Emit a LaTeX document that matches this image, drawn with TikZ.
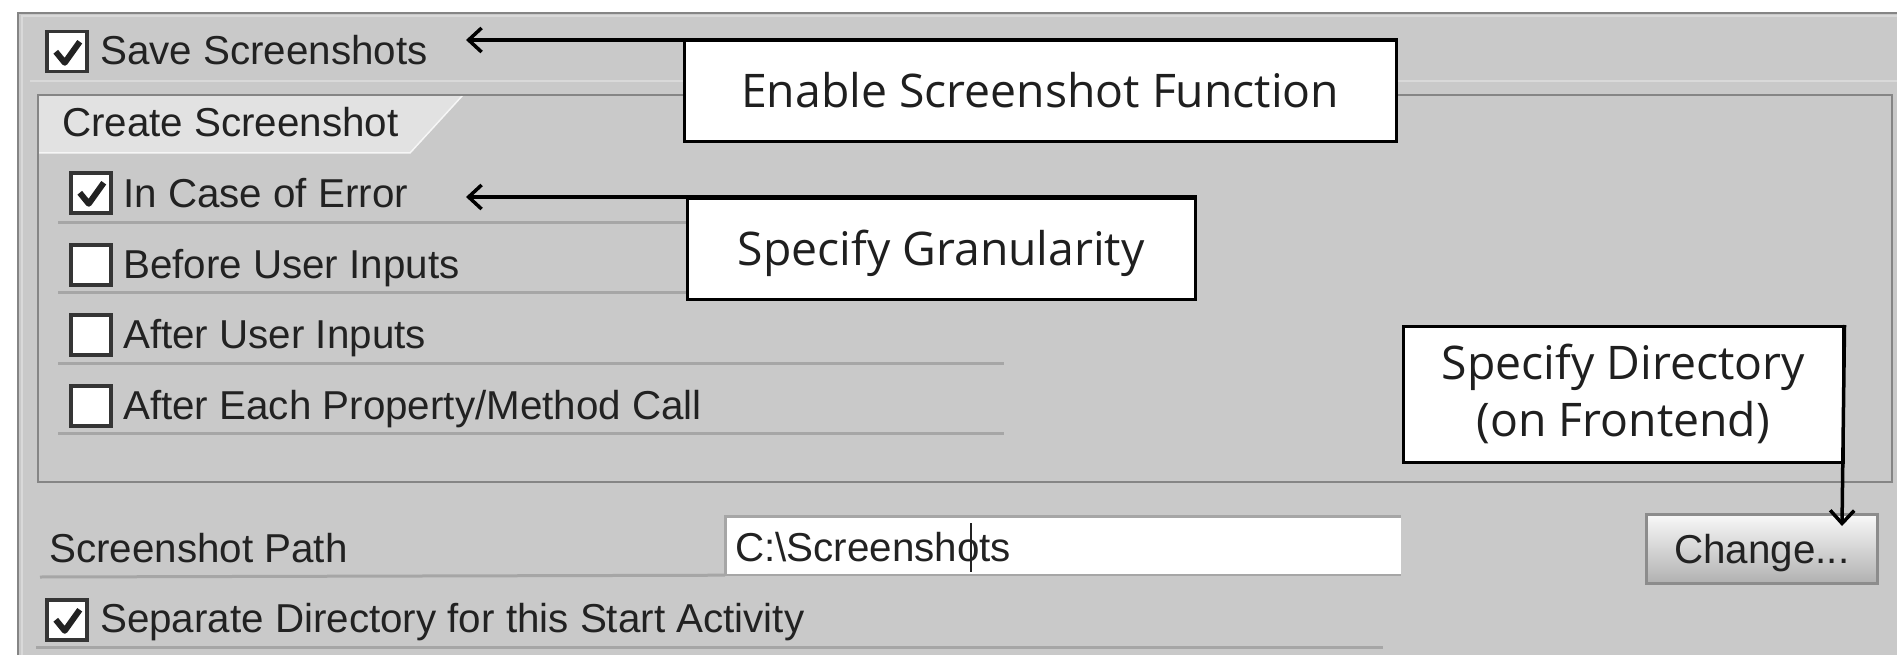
\documentclass[tikz,border=0pt]{standalone}
\usepackage{fontspec}
\setmainfont{Liberation Sans}
\newfontfamily\notefont{Open Sans}
\usetikzlibrary{arrows.meta,calc}

\definecolor{panel}{HTML}{C9C9C9}
\definecolor{tabfill}{HTML}{E2E2E2}
\definecolor{frameline}{HTML}{858585}
\definecolor{sepline}{HTML}{A6A6A6}
\definecolor{hilite}{HTML}{D9D9D9}
\definecolor{uitext}{HTML}{222222}
\definecolor{boxline}{HTML}{353535}
\definecolor{btnline}{HTML}{8C8C8C}

\newcommand{\uisize}{\fontsize{40.5}{49}\selectfont}
\newcommand{\notesize}{\notefont\fontsize{46.5}{57}\selectfont}

\begin{document}
\begin{tikzpicture}[x=1bp, y=-1bp,
  uilabel/.style={anchor=base west, inner sep=0pt, text=uitext, font=\uisize},
  chk/.style={draw=boxline, line width=3.5bp, fill=white, minimum size=40bp,
    inner sep=0pt, anchor=north west},
  checked/.style={path picture={
    \draw[uitext, line width=6bp, line join=round]
      ($(path picture bounding box.north west)+(9,20)$) -- ++(9,11) -- ++(15,-21);}},
  uisep/.style={draw=sepline, line width=3bp},
  callout/.style={draw=black, line width=2.5bp, fill=white, inner sep=0pt,
    font=\notesize, text=black!88, anchor=north west},
  oneline/.style={text height=33bp, text depth=0bp},
  pointer/.style={draw=black, line width=3.5bp,
    -{Straight Barb[length=13bp, width=24bp, line width=3.5bp]}},
  field/.style={fill=white, inner xsep=10bp, inner ysep=0pt, anchor=west,
    text=uitext, font=\uisize, text height=30bp, text depth=0bp, align=left},
  button/.style={draw=btnline, line width=2.5bp, top color=white!88!panel,
    bottom color=black!12!panel, text=uitext, font=\uisize, inner sep=0pt,
    text height=30bp, text depth=0bp, anchor=north west}
]
\useasboundingbox (0,0) rectangle (1897,655);
\fill[white] (0,0) rectangle (1897,655);
\fill[panel] (18,13) rectangle (1897,655);

% outer frame with its inner highlight
\draw[frameline, line width=2.5bp] (18,655) -- (18,13) -- (1897,13);
\draw[hilite, line width=2bp] (21.5,655) -- (21.5,16.5) -- (1897,16.5);

% top row: Save Screenshots
\node[chk, checked] (savebox) at (45,30) {};
\node[uilabel] (savelbl) at (100,65) {Save Screenshots};
\draw[hilite, line width=2bp] (30,81) -- (1897,81);

% group box with its tab
\fill[tabfill] (38,95) -- (463,95) -- (410,153) -- (38,153) -- cycle;
\draw[white!70!tabfill, line width=1.5bp] (463,95) -- (410,153) -- (38,153);
\draw[frameline, line width=2.5bp] (38,95) rectangle (1892,482);
\node[uilabel] (tablbl) at (62,137) {Create Screenshot};

% granularity options
\node[chk, checked] (errbox) at (69,171) {};
\node[uilabel] (errlbl) at (123,207) {In Case of Error};
\draw[uisep] (58,222) -- (686,222);
\node[chk] (befbox) at (69,243) {};
\node[uilabel] (beflbl) at (123,278) {Before User Inputs};
\draw[uisep] (58,292) -- (686,292);
\node[chk] (aftbox) at (69,313) {};
\node[uilabel] (aftlbl) at (123,348) {After User Inputs};
\draw[uisep] (58,363) -- (1004,363);
\node[chk] (eachbox) at (69,384) {};
\node[uilabel] (eachlbl) at (123,419) {After Each Property/Method Call};
\draw[uisep] (58,433) -- (1004,433);

% path row
\node[uilabel] (pathlbl) at (49,562) {Screenshot Path};
\node[field, minimum width=676bp, minimum height=58bp, text width=656bp]
  (pathfield) at (725,546) {C:\textbackslash Screenshots};
\draw[sepline, line width=3bp] (pathfield.south west) -- (pathfield.north west)
  -- (pathfield.north east);
\draw[uitext, line width=2bp] (971,523) -- (971,572);
\draw[uisep] (40,577) -- (pathfield.south west);
\draw[sepline, line width=2bp] (pathfield.south west) -- (pathfield.south east);
\node[button, minimum width=231bp, minimum height=69bp] (changebtn) at (1645,513)
  {Change...};

% bottom row
\node[chk, checked] (sepbox) at (45,598) {};
\node[uilabel] (seplbl) at (100,632) {Separate Directory for this Start Activity};
\draw[uisep] (36,647) -- (1383,647);

% callouts
\node[callout, oneline, minimum width=712bp, minimum height=100bp] (enable)
  at (683,40) {Enable Screenshot Function};
\node[callout, oneline, minimum width=508bp, minimum height=101bp] (gran)
  at (686,197) {Specify Granularity};
\node[callout, align=center, minimum width=440bp, minimum height=136bp] (dir)
  at (1402,325) {Specify Directory\\(on Frontend)};

\coordinate (savetip) at (466,40);
\coordinate (errtip) at (466,197);
\coordinate (chgtip) at (1842,526);
\draw[pointer] (enable.north east) -- (savetip);
\draw[pointer] (gran.north east) -- (errtip);
\draw[pointer] (dir.north east) -- (chgtip);
\end{tikzpicture}
\end{document}
